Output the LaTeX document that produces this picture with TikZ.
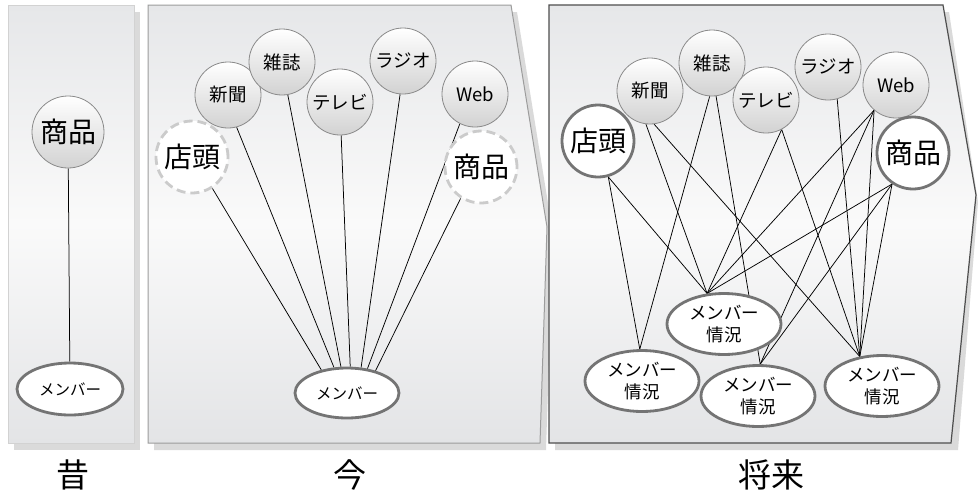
\documentclass[tikz,border=0pt]{standalone}
\usepackage{fontspec}
\setmainfont{Noto Sans CJK JP}
\usetikzlibrary{shapes.geometric}
\definecolor{pshadow}{HTML}{DADADA}
\definecolor{ptop}{HTML}{E6E7E9}
\definecolor{pmid}{HTML}{FAFAFA}
\definecolor{pbot}{HTML}{E3E4E6}
\definecolor{edgeA}{HTML}{D2D2D2}
\definecolor{edgeB}{HTML}{9C9C9C}
\definecolor{edgeC}{HTML}{4E4E4E}
\definecolor{mediaedge}{HTML}{8A8A8A}
\definecolor{mediabot}{HTML}{D2D2D2}
\definecolor{thickedge}{HTML}{747474}
\definecolor{dashgray}{HTML}{CBCBCB}
\pgfdeclarelayer{bg}
\pgfdeclarelayer{lines}
\pgfsetlayers{bg,lines,main}
\begin{document}
\begin{tikzpicture}[x=1pt,y=-1pt,
  media/.style={circle, draw=mediaedge, line width=0.8pt, top color=white, bottom color=mediabot, minimum size=66pt, inner sep=0pt, font=\fontsize{18.5}{21}\selectfont},
  bigmedia/.style={media, minimum size=72pt, font=\fontsize{28}{32}\selectfont},
  bigc/.style={circle, draw=thickedge, line width=2.8pt, fill=white, minimum size=72pt, inner sep=0pt, font=\fontsize{28}{32}\selectfont},
  dashc/.style={bigc, draw=dashgray, dash pattern=on 9pt off 5pt},
  memb/.style={ellipse, draw=thickedge, line width=2.8pt, fill=white, minimum width=104pt, minimum height=50pt, inner sep=0pt, font=\fontsize{15.5}{18}\selectfont},
  membr/.style={memb, minimum width=114pt, minimum height=61pt, align=center, font=\fontsize{17.5}{22}\selectfont},
  link/.style={line width=0.75pt, black},
  panelfill/.style={top color=ptop, bottom color=pbot, middle color=pmid},
  shadowfill/.style={fill=pshadow, draw=none},
  period/.style={font=\fontsize{33}{36}\selectfont, inner sep=0pt}
]
\useasboundingbox (0,0) rectangle (978,499);

% panels
\begin{pgfonlayer}{bg}
  \fill[white] (0,0) rectangle (978,499);
  % shadows
  \path[shadowfill] (14,12) rectangle (140,450);
  \path[shadowfill] (154,12) -- (517,12) -- (553,234) -- (546,450) -- (154,450) -- cycle;
  \path[shadowfill] (555,12) -- (949,12) -- (978,202) -- (958,450) -- (555,450) -- cycle;
  % panels
  \path[panelfill, draw=edgeA, line width=0.8pt] (8,5) rectangle (134,443);
  \path[panelfill, draw=edgeB, line width=1pt] (148,5) -- (511,5) -- (547,227) -- (540,443) -- (148,443) -- cycle;
  \path[panelfill, draw=edgeC, line width=1.2pt] (549,5) -- (943,5) -- (976,195) -- (951,443) -- (549,443) -- cycle;
\end{pgfonlayer}

% left panel
\node[bigmedia] (lprod) at (68,132) {商品};
\node[memb, minimum width=106pt, minimum height=52pt] (lmem) at (70,389) {メンバー};

% middle panel
\node[dashc] (mshop) at (192,157) {店頭};
\node[media] (mnews) at (228,95) {新聞};
\node[media] (mmag) at (282,62) {雑誌};
\node[media] (mtv) at (340,102) {テレビ};
\node[media] (mradio) at (403,61) {ラジオ};
\node[media] (mweb) at (475,94) {Web};
\node[dashc] (mprod) at (481,167) {商品};
\node[memb] (mmem) at (347,393) {メンバー};

% right panel
\node[bigc] (rshop) at (598,141) {店頭};
\node[media] (rnews) at (650,91) {新聞};
\node[media] (rmag) at (712,63) {雑誌};
\node[media] (rtv) at (766,100) {テレビ};
\node[media] (rradio) at (828,67) {ラジオ};
\node[media] (rweb) at (896,85) {Web};
\node[bigc] (rprod) at (913,153) {商品};
\node[membr] (m1) at (724,324) {メンバー\\情況};
\node[membr] (m2) at (642,381) {メンバー\\情況};
\node[membr] (m3) at (758,396) {メンバー\\情況};
\node[membr] (m4) at (882,386) {メンバー\\情況};

% period labels
\node[period] (lab1) at (73,475) {昔};
\node[period] (lab2) at (350,475) {今};
\node[period] (lab3) at (771,475) {将来};

\begin{pgfonlayer}{lines}
  \draw[link] (lprod) -- (lmem);
  % middle
  \draw[link] (mshop.303) -- (mmem.138);
  \draw[link] (mnews.285) -- (mmem.117);
  \draw[link] (mmag.280) -- (mmem.103);
  \draw[link] (mtv.272) -- (mmem.83);
  \draw[link] (mradio.265) -- (mmem.61);
  \draw[link] (mweb.243) -- (mmem.50);
  \draw[link] (mprod.237) -- (mmem.38);
  % right
  \draw[link] (rshop.286) -- (m2.94);
  \draw[link] (rshop.286) -- (m1.119);
  \draw[link] (rnews.263) -- (m1.119);
  \draw[link] (rnews.277) -- (m4.127);
  \draw[link] (rmag.266) -- (m2.94);
  \draw[link] (rmag.277) -- (m3.86);
  \draw[link] (rtv.298) -- (m1.119);
  \draw[link] (rtv.298) -- (m4.127);
  \draw[link] (rradio.286) -- (m4.127);
  \draw[link] (rweb.229) -- (m1.119);
  \draw[link] (rweb.229) -- (m3.86);
  \draw[link] (rweb.229) -- (m4.127);
  \draw[link] (rprod.236) -- (m1.119);
  \draw[link] (rprod.236) -- (m3.86);
  \draw[link] (rprod.236) -- (m4.127);
\end{pgfonlayer}
\end{tikzpicture}
\end{document}
